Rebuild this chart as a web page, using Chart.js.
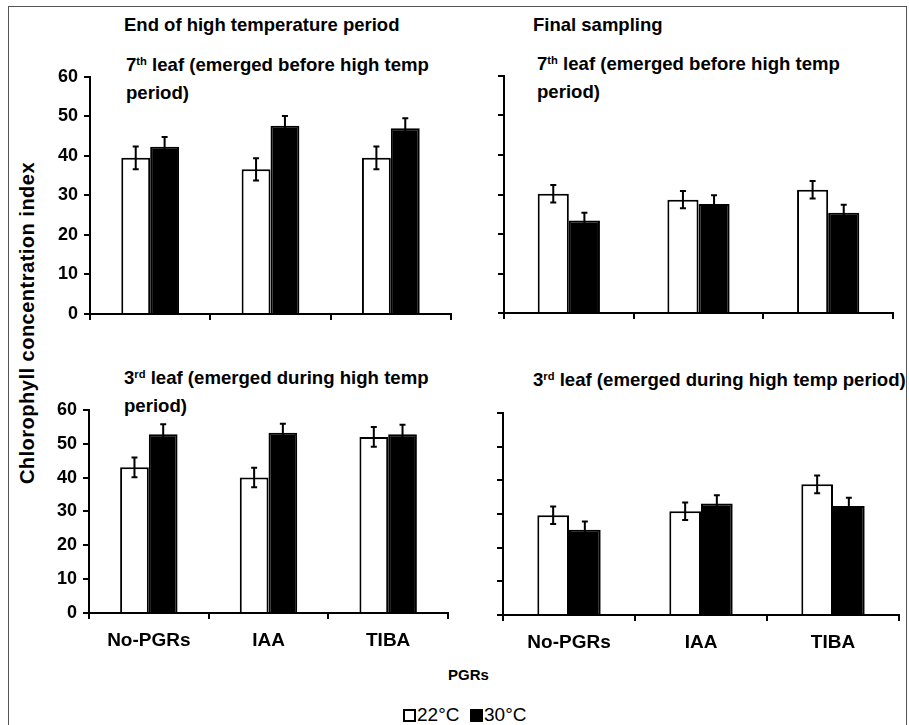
<!DOCTYPE html>
<html>
<head>
<meta charset="utf-8">
<script src="https://cdn.jsdelivr.net/npm/chart.js@4.4.1/dist/chart.umd.min.js"></script>
<style>
  html, body { margin: 0; padding: 0; background: #fff; }
  body { width: 909px; height: 725px; position: relative; overflow: hidden;
         font-family: "Liberation Sans", Arial, sans-serif; color: #000; }
  #frame { position: absolute; left: 8px; top: 6px; width: 899px; height: 730px;
           border: 1px solid #555; box-sizing: border-box; }
  canvas { position: absolute; }
  .txt { position: absolute; font-weight: bold; white-space: nowrap; line-height: 1; }
  .lead { font-size: 18.6px; line-height: 25px; }
  .txt sup { font-size: 60%; vertical-align: 0; position: relative; top: -0.55em; font-weight: bold; }
  #ytitle { position: absolute; left: 27px; top: 323px; font-weight: bold; font-size: 20px;
            letter-spacing: 0.5px; white-space: nowrap; transform: translate(-50%, -50%) rotate(-90deg); }
  #legend { position: absolute; left: 403px; top: 704px; font-size: 19px; white-space: nowrap; line-height: 22px; }
  .box { display: inline-block; width: 13px; height: 13px; box-sizing: border-box;
         border: 2px solid #000; vertical-align: -1px; margin-right: 1px; }
</style>
</head>
<body>
<div id="frame"></div>

<div class="txt" style="left:124px; top:16px; font-size:18.5px;">End of high temperature period</div>
<div class="txt" style="left:533px; top:16px; font-size:18.5px;">Final sampling</div>

<div class="txt lead" style="left:126px; top:52px;">7<sup>th</sup> leaf (emerged before high temp<br>period)</div>
<div class="txt lead" style="left:537px; top:51px;">7<sup>th</sup> leaf (emerged before high temp<br>period)</div>
<div class="txt lead" style="left:124px; top:365px;">3<sup>rd</sup> leaf (emerged during high temp<br>period)</div>
<div class="txt lead" style="left:533px; top:367px;">3<sup>rd</sup> leaf (emerged during high temp period)</div>

<div id="ytitle">Chlorophyll concentration index</div>
<div class="txt" style="left:448px; top:667px; font-size:15px;">PGRs</div>
<div id="legend"><span class="box"></span>22°C&nbsp;&nbsp;<span class="box" style="background:#000"></span>30°C</div>

<canvas id="c1"></canvas>
<canvas id="c2"></canvas>
<canvas id="c3"></canvas>
<canvas id="c4"></canvas>

<script>
// categorías y valores
const categories = ['No-PGRs', 'IAA', 'TIBA'];
const yTicks = [0, 10, 20, 30, 40, 50, 60];

// End of high temperature period, 7th leaf
const endLeaf7_22 = [39.5, 36.6, 39.5];
const endLeaf7_30 = [42.3, 47.6, 47.0];
const endLeaf7_22err = [2.9, 2.8, 2.9];
const endLeaf7_30err = [2.5, 2.5, 2.5];

// Final sampling, 7th leaf
const finLeaf7_22 = [30.2, 28.7, 31.2];
const finLeaf7_30 = [23.4, 27.6, 25.4];
const finLeaf7_22err = [2.2, 2.2, 2.2];
const finLeaf7_30err = [2.0, 2.2, 2.0];

// End of high temperature period, 3rd leaf
const endLeaf3_22 = [43.0, 40.0, 52.0];
const endLeaf3_30 = [52.8, 53.2, 52.8];
const endLeaf3_22err = [2.9, 2.9, 2.9];
const endLeaf3_30err = [2.9, 2.7, 2.8];

// Final sampling, 3rd leaf
const finLeaf3_22 = [29.6, 30.8, 38.8];
const finLeaf3_30 = [25.3, 33.1, 32.4];
const finLeaf3_22err = [2.6, 2.6, 2.6];
const finLeaf3_30err = [2.5, 2.5, 2.4];

const FONT = '"Liberation Sans", Arial, sans-serif';
const PAD_TOP = 14;
const PAD_RIGHT = 26;

// barras de error dibujadas encima de cada barra
const errorBars = {
    id: 'errorBars',
    afterDatasetsDraw(chart) {
        const ctx = chart.ctx;
        const yScale = chart.scales.y;
        ctx.save();
        ctx.strokeStyle = '#000';
        ctx.lineWidth = 2;
        chart.data.datasets.forEach((ds, i) => {
            const meta = chart.getDatasetMeta(i);
            meta.data.forEach((bar, j) => {
                const v = ds.data[j];
                const e = ds.errors[j];
                const yTop = yScale.getPixelForValue(v + e);
                const yBot = yScale.getPixelForValue(v - e);
                const x = bar.x;
                ctx.beginPath();
                ctx.moveTo(x, yTop); ctx.lineTo(x, yBot);
                ctx.moveTo(x - 3, yTop); ctx.lineTo(x + 3, yTop);
                ctx.moveTo(x - 3, yBot); ctx.lineTo(x + 3, yBot);
                ctx.stroke();
            });
        });
        ctx.restore();
    }
};

function makePanel(canvasId, area, yAxisW, xAxisH, showY, showX, d22, d30, e22, e30) {
    const canvas = document.getElementById(canvasId);
    const w = yAxisW + (area.r - area.l) + PAD_RIGHT;
    const h = PAD_TOP + (area.b - area.t) + xAxisH;
    canvas.width = w;
    canvas.height = h;
    canvas.style.left = (area.l - yAxisW) + 'px';
    canvas.style.top = (area.t - PAD_TOP) + 'px';
    canvas.style.width = w + 'px';
    canvas.style.height = h + 'px';

    return new Chart(canvas.getContext('2d'), {
        type: 'bar',
        data: {
            labels: categories,
            datasets: [
                { label: '22°C', data: d22, errors: e22, backgroundColor: '#fff',
                  borderColor: '#000', borderWidth: 2, borderSkipped: 'bottom' },
                { label: '30°C', data: d30, errors: e30, backgroundColor: '#000',
                  borderColor: '#000', borderWidth: 2, borderSkipped: 'bottom' }
            ]
        },
        options: {
            responsive: false,
            animation: false,
            devicePixelRatio: 1,
            layout: { padding: { top: PAD_TOP, right: PAD_RIGHT, left: 0, bottom: 0 } },
            categoryPercentage: 0.48,
            barPercentage: 1.0,
            plugins: {
                legend: { display: false },
                title: { display: false },
                tooltip: { enabled: false }
            },
            scales: {
                x: {
                    offset: true,
                    grid: { display: true, offset: true, drawOnChartArea: false,
                            tickLength: 6, tickColor: '#000', lineWidth: 2 },
                    border: { display: true, color: '#000', width: 2 },
                    ticks: { display: showX, color: '#000', padding: 10,
                             font: { family: FONT, size: 19, weight: 'bold' } },
                    afterFit: (s) => { s.height = xAxisH; }
                },
                y: {
                    min: 0, max: 60,
                    afterBuildTicks: (s) => { s.ticks = yTicks.map(v => ({ value: v })); },
                    grid: { display: true, drawOnChartArea: false,
                            tickLength: 6, tickColor: '#000', lineWidth: 2 },
                    border: { display: true, color: '#000', width: 2 },
                    ticks: { display: showY, color: '#000', padding: 6,
                             font: { family: FONT, size: 18, weight: 'bold' } },
                    afterFit: (s) => { s.width = yAxisW; }
                }
            }
        },
        plugins: [errorBars]
    });
}

makePanel('c1', { l: 90, r: 451, t: 74, b: 314 }, 50, 18, true, false,
    endLeaf7_22, endLeaf7_30, endLeaf7_22err, endLeaf7_30err);
makePanel('c2', { l: 504, r: 893, t: 76, b: 313 }, 10, 18, false, false,
    finLeaf7_22, finLeaf7_30, finLeaf7_22err, finLeaf7_30err);
makePanel('c3', { l: 89, r: 448, t: 407, b: 613 }, 50, 42, true, true,
    endLeaf3_22, endLeaf3_30, endLeaf3_22err, endLeaf3_30err);
makePanel('c4', { l: 503, r: 899, t: 413, b: 615 }, 10, 42, false, true,
    finLeaf3_22, finLeaf3_30, finLeaf3_22err, finLeaf3_30err);
</script>
</body>
</html>
